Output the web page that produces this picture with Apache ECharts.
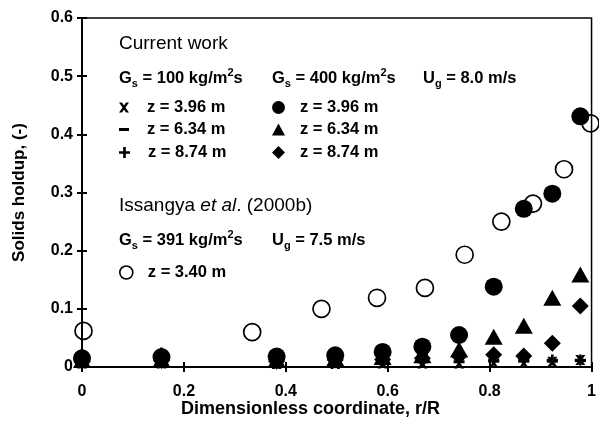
<!DOCTYPE html>
<html>
<head>
<meta charset="utf-8">
<script src="https://cdn.jsdelivr.net/npm/echarts@6/dist/echarts.min.js"></script>
<style>html,body{margin:0;padding:0;background:#fff;}#c{width:599px;height:430px;}</style>
</head>
<body>
<div id="c"></div>
<script>
// r/R positions of current-work measurements
const xCurrent = [0, 0.156, 0.382, 0.497, 0.59, 0.668, 0.74, 0.808, 0.867, 0.923, 0.978];
// Gs = 100 kg/m2s
const g100_z396 = [0.006, 0.006, 0.005, 0.005, 0.006, 0.006, 0.006, 0.007, 0.007, 0.009, 0.012];
const g100_z634 = [0.009, 0.009, 0.008, 0.008, 0.009, 0.009, 0.009, 0.010, 0.010, 0.010, 0.011];
const g100_z874 = [0.022, 0.024, 0.020, 0.020, 0.022, 0.022, 0.022, 0.012, 0.012, 0.012, 0.012];
// Gs = 400 kg/m2s
const g400_z396 = [0.015, 0.017, 0.018, 0.020, 0.026, 0.035, 0.055, 0.138, 0.272, 0.298, 0.431];
const g400_z634 = [0.012, 0.013, 0.013, 0.015, 0.017, 0.020, 0.030, 0.052, 0.071, 0.119, 0.159];
const g400_z874 = [0.010, 0.011, 0.010, 0.012, 0.013, 0.015, 0.019, 0.021, 0.019, 0.041, 0.105];
// Issangya et al. (2000b), z = 3.40 m
const xIssangya = [0.003, 0.334, 0.47, 0.579, 0.673, 0.751, 0.823, 0.885, 0.946, 0.998];
const issangya = [0.062, 0.060, 0.100, 0.119, 0.136, 0.193, 0.250, 0.281, 0.340, 0.419];

const yTicks = [0, 0.1, 0.2, 0.3, 0.4, 0.5, 0.6];
const xTicks = [0, 0.2, 0.4, 0.6, 0.8, 1];

const FONT = '"Liberation Sans", Arial, sans-serif';
const pair = (xs, ys) => xs.map((x, i) => [x, ys[i]]);

const X_PATH = 'path://M0,0 L3,0 L5,3 L7,0 L10,0 L6.5,5 L10,10 L7,10 L5,7 L3,10 L0,10 L3.5,5 Z';
const DASH_PATH = 'path://M0,0 L10,0 L10,3 L0,3 Z';
const PLUS_PATH = 'path://M3.8,0 L6.2,0 L6.2,3.8 L10,3.8 L10,6.2 L6.2,6.2 L6.2,10 L3.8,10 L3.8,6.2 L0,6.2 L0,3.8 L3.8,3.8 Z';

const seriesDefs = [
  {name: 'g100_396', label: 'z = 3.96 m', x: xCurrent, y: g100_z396, symbol: X_PATH, size: [10, 10], lsize: [10, 10], col: 0, row: 0},
  {name: 'g100_634', label: 'z = 6.34 m', x: xCurrent, y: g100_z634, symbol: DASH_PATH, size: [11, 3], lsize: [10, 3], col: 0, row: 1},
  {name: 'g100_874', label: 'z = 8.74 m', x: xCurrent, y: g100_z874, symbol: PLUS_PATH, size: [11, 11], lsize: [11, 11], col: 0, row: 2},
  {name: 'g400_396', label: 'z = 3.96 m', x: xCurrent, y: g400_z396, symbol: 'circle', size: 18, lsize: [13, 13], col: 1, row: 0},
  {name: 'g400_634', label: 'z = 6.34 m', x: xCurrent, y: g400_z634, symbol: 'triangle', size: [18, 16], lsize: [13, 12], col: 1, row: 1},
  {name: 'g400_874', label: 'z = 8.74 m', x: xCurrent, y: g400_z874, symbol: 'diamond', size: [17, 17], lsize: [13, 13], col: 1, row: 2},
];

const series = seriesDefs.map(d => ({
  name: d.name, type: 'scatter', data: pair(d.x, d.y), symbol: d.symbol, symbolSize: d.size,
  itemStyle: {color: '#000', opacity: 1}, clip: false, z: 3
}));
series.push({
  name: 'issangya', type: 'scatter', data: pair(xIssangya, issangya), symbol: 'circle', symbolSize: 17,
  itemStyle: {color: 'rgba(255,255,255,0)', borderColor: '#000', borderWidth: 1.7, opacity: 1}, clip: false, z: 4
});

const colX = [[119, 0], [272, 0]];
const rowY = [99, 121, 144];
const legends = seriesDefs.map(d => ({
  data: [d.name], selectedMode: false, orient: 'horizontal',
  left: colX[d.col][0], top: rowY[d.row], padding: 0,
  itemWidth: d.lsize[0], itemHeight: d.lsize[1],
  formatter: () => d.label,
  textStyle: {fontFamily: FONT, fontSize: 16.5, fontWeight: 'bold', color: '#000', padding: [0, 0, 0, d.col === 0 ? 13 : 10]}
}));
legends.push({
  data: ['issangya'], selectedMode: false, left: 119, top: 264, padding: 0,
  itemWidth: 13, itemHeight: 13, formatter: () => 'z = 3.40 m',
  itemStyle: {borderWidth: 1.6},
  textStyle: {fontFamily: FONT, fontSize: 16.5, fontWeight: 'bold', color: '#000', padding: [0, 0, 0, 10]}
});

const rich = {
  b: {fontFamily: FONT, fontSize: 16.5, fontWeight: 'bold', lineHeight: 22, fill: '#000'},
  sub: {fontFamily: FONT, fontSize: 11, fontWeight: 'bold', lineHeight: 22, verticalAlign: 'bottom', fill: '#000'},
  sup: {fontFamily: FONT, fontSize: 11, fontWeight: 'bold', lineHeight: 22, verticalAlign: 'top', fill: '#000'},
  r: {fontFamily: FONT, fontSize: 19, lineHeight: 22, fill: '#000'},
  i: {fontFamily: FONT, fontSize: 19, fontStyle: 'italic', lineHeight: 22, fill: '#000'}
};
const txt = (x, y, text) => ({type: 'text', left: x, top: y, style: {text: text, rich: rich, fill: '#000'}, z: 10});

const chart = echarts.init(document.getElementById('c'), null, {renderer: 'canvas'});
chart.setOption({
  backgroundColor: '#fff',
  animation: false,
  grid: {left: 82, right: 4, top: 18, bottom: 63, show: true, borderColor: '#000', borderWidth: 1.5, backgroundColor: 'transparent'},
  xAxis: [{
    type: 'value', min: 0, max: 1, interval: 0.2,
    axisLine: {show: true, onZero: false, lineStyle: {color: '#000', width: 2}},
    axisTick: {show: true, length: 5, lineStyle: {color: '#000', width: 2}},
    axisLabel: {margin: 17, fontFamily: FONT, fontSize: 16, fontWeight: 'bold', color: '#000',
      formatter: v => xTicks.indexOf(+v.toFixed(1)) >= 0 ? String(+v.toFixed(1)) : ''},
    splitLine: {show: false}
  }, {
    type: 'value', min: 0, max: 1, interval: 0.2, position: 'bottom',
    axisLine: {show: false}, axisLabel: {show: false}, splitLine: {show: false},
    axisTick: {show: true, inside: true, length: 5, lineStyle: {color: '#000', width: 2}}
  }],
  yAxis: [{
    type: 'value', min: 0, max: 0.6, interval: 0.1,
    name: 'Solids holdup, (-)', nameLocation: 'middle', nameGap: 54,
    nameTextStyle: {fontFamily: FONT, fontSize: 17, fontWeight: 'bold', color: '#000'},
    axisLine: {show: true, onZero: false, lineStyle: {color: '#000', width: 2}},
    axisTick: {show: true, length: 5, lineStyle: {color: '#000', width: 2}},
    axisLabel: {margin: 9, fontFamily: FONT, fontSize: 16, fontWeight: 'bold', color: '#000',
      formatter: v => yTicks.indexOf(+v.toFixed(1)) >= 0 ? String(+v.toFixed(1)) : ''},
    splitLine: {show: false}
  }, {
    type: 'value', min: 0, max: 0.6, interval: 0.1, position: 'left',
    axisLine: {show: false}, axisLabel: {show: false}, splitLine: {show: false},
    axisTick: {show: true, inside: true, length: 5, lineStyle: {color: '#000', width: 2}}
  }],
  legend: legends,
  series: series,
  graphic: [
    txt(119, 34, '{r|Current work}'),
    txt(119, 67, '{b|G}{sub|s}{b| = 100 kg/m}{sup|2}{b|s}'),
    txt(272, 67, '{b|G}{sub|s}{b| = 400 kg/m}{sup|2}{b|s}'),
    txt(423, 67, '{b|U}{sub|g}{b| = 8.0 m/s}{sup| }'),
    txt(119, 196, '{r|Issangya }{i|et al}{r|. (2000b)}'),
    txt(119, 229, '{b|G}{sub|s}{b| = 391 kg/m}{sup|2}{b|s}'),
    txt(272, 229, '{b|U}{sub|g}{b| = 7.5 m/s}{sup| }'),
    {type: 'text', left: 181, top: 400, z: 10,
     style: {text: 'Dimensionless coordinate, r/R', fontFamily: FONT, fontSize: 18, fontWeight: 'bold', fill: '#000'}}
  ]
});
</script>
</body>
</html>
